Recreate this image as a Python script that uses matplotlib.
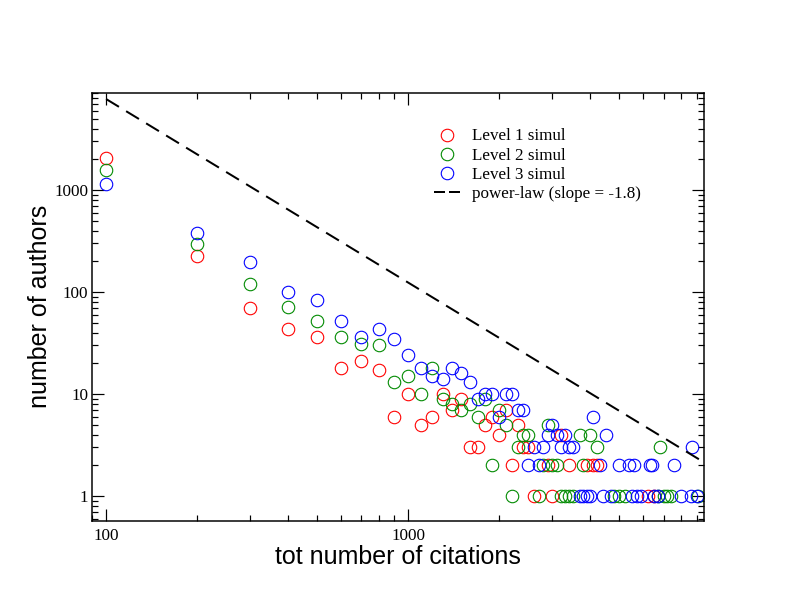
import matplotlib
matplotlib.use("Agg")
import matplotlib.pyplot as plt
from matplotlib.ticker import FixedLocator, LogLocator, NullFormatter, FixedFormatter

# ---- data (x in citations, y = number of authors) ----
red_x = [100, 200, 300, 400, 500, 600, 700, 800, 900, 1000, 1100, 1200, 1300, 1400,
         1500, 1600, 1700, 1800, 1900, 2000, 2100, 2200, 2300, 2400, 2500, 2600, 2900,
         3000, 3200, 3400, 3900, 4100, 4200, 6200, 6500]
red_y = [2050, 225, 70, 43, 36, 18, 21, 17, 6, 10, 5, 6, 10, 7,
         9, 3, 3, 5, 6, 4, 7, 2, 5, 3, 3, 1, 2,
         1, 4, 2, 2, 2, 2, 1, 1]

green_x = [100, 200, 300, 400, 500, 600, 700, 800, 900, 1000, 1100, 1200, 1300, 1400,
           1500, 1600, 1700, 1800, 1900, 2000, 2100, 2200, 2300, 2400, 2500, 2700, 2800,
           2900, 3000, 3100, 3200, 3300, 3400, 3500, 3700, 3800, 4000, 4200, 4800, 5000,
           5200, 6700, 6800, 7000, 7200, 7400, 9100]
green_y = [1560, 298, 119, 72, 52, 36, 31, 30, 13, 15, 10, 18, 9, 8,
           7, 8, 6, 9, 2, 7, 5, 1, 3, 4, 4, 1, 2,
           5, 2, 2, 1, 1, 1, 1, 4, 2, 4, 3, 1, 1,
           1, 1, 3, 1, 1, 1, 1]

blue_x = [100, 200, 300, 400, 500, 600, 700, 800, 900, 1000, 1100, 1200, 1300, 1400,
          1500, 1600, 1700, 1800, 1900, 2000, 2100, 2200, 2300, 2400, 2500, 2600, 2700,
          2800, 2900, 3000, 3100, 3200, 3300, 3400, 3500, 3700, 3800, 3900, 4000, 4100,
          4300, 4400, 4500, 4700, 5000, 5400, 5500, 5600, 5700, 5900, 6300, 6400, 6500,
          6700, 7600, 8000, 8600, 8700, 9000]
blue_y = [1150, 376, 195, 99, 84, 52, 36, 43, 35, 24, 18, 15, 14, 18,
          16, 13, 9, 10, 10, 6, 10, 10, 7, 7, 2, 3, 2,
          3, 4, 5, 4, 3, 4, 3, 3, 1, 1, 1, 1, 6,
          2, 1, 4, 1, 2, 2, 1, 2, 1, 1, 2, 2, 1,
          1, 2, 1, 1, 3, 1]

# power-law reference line endpoints (slope -1.8 on log-log)
pl_x = [100, 10000]
pl_y = [7800, 1.96]

labels = ["Level 1 simul", "Level 2 simul", "Level 3 simul", "power-law (slope = -1.8)"]
y_major = [1, 10, 100, 1000]
y_major_labels = ["1", "10", "100", "1000"]
x_major = [100, 1000]
x_major_labels = ["100", "1000"]

serif = "Liberation Serif"
sans = "Liberation Sans"

fig = plt.figure(figsize=(11, 8.5), dpi=72)
ax = fig.add_axes([92.3 / 792, (612 - 520.5) / 612, (704.3 - 92.3) / 792, (520.5 - 92.7) / 612])
ax.set_xscale("log")
ax.set_yscale("log")

ms = 12.5
ax.plot(red_x, red_y, "o", mfc="none", mec="#ff0000", mew=1.1, ms=ms, label=labels[0])
ax.plot(green_x, green_y, "o", mfc="none", mec="#008a00", mew=1.1, ms=ms, label=labels[1])
ax.plot(blue_x, blue_y, "o", mfc="none", mec="#0000ff", mew=1.1, ms=ms, label=labels[2])
ax.plot(pl_x, pl_y, color="black", lw=2, dashes=(7.5, 4.2), label=labels[3])

ax.set_xlim(90, 9550)
ax.set_ylim(0.575, 9000)

ax.xaxis.set_major_locator(FixedLocator(x_major))
ax.xaxis.set_major_formatter(FixedFormatter(x_major_labels))
ax.xaxis.set_minor_locator(LogLocator(base=10, subs=range(2, 10)))
ax.xaxis.set_minor_formatter(NullFormatter())
ax.yaxis.set_major_locator(FixedLocator(y_major))
ax.yaxis.set_major_formatter(FixedFormatter(y_major_labels))
ax.yaxis.set_minor_locator(LogLocator(base=10, subs=range(2, 10)))
ax.yaxis.set_minor_formatter(NullFormatter())

ax.tick_params(which="both", direction="in", top=True, right=True, width=1.2, color="black")
ax.tick_params(which="major", length=12)
ax.tick_params(axis="y", which="major", pad=4)
ax.tick_params(axis="x", which="major", pad=8)
ax.tick_params(which="minor", length=6)
for lab in ax.get_xticklabels() + ax.get_yticklabels():
    lab.set_fontfamily(serif)
    lab.set_fontsize(17)
for sp in ax.spines.values():
    sp.set_linewidth(1.5)

ax.set_xlabel("tot number of citations", fontsize=25, family=sans, labelpad=1)
ax.set_ylabel("number of authors", fontsize=25, family=sans, labelpad=2)

leg = ax.legend(loc="upper left", bbox_to_anchor=(434 / 792, 1 - 128.5 / 612),
                bbox_transform=fig.transFigure, frameon=False, borderpad=0,
                borderaxespad=0, handlelength=1.53, handletextpad=0.7,
                labelspacing=0.19, prop={"family": serif, "size": 17})
leg.get_lines()[3].set_dashes((5.5, 2.0))

fig.savefig("out.png", dpi=72)
